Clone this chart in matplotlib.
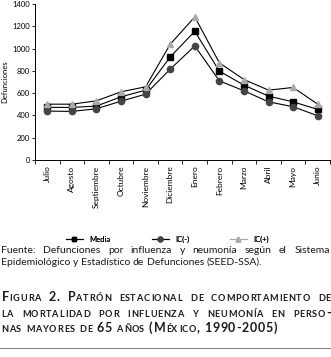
import numpy as np
import matplotlib
matplotlib.use("Agg")
import matplotlib.pyplot as plt
from matplotlib.lines import Line2D
from matplotlib.transforms import IdentityTransform
from matplotlib.font_manager import findfont, FontProperties
from matplotlib.ft2font import FT2Font

plt.rcParams['font.family'] = ['Lato', 'DejaVu Sans']

meses = ["Julio", "Agosto", "Septiembre", "Octubre", "Noviembre", "Diciembre",
         "Enero", "Febrero", "Marzo", "Abril", "Mayo", "Junio"]
media = [472, 472, 484, 567, 627, 925, 1155, 797, 672, 573, 522, 454]
ic_menos = [439, 436, 460, 528, 591, 815, 1024, 710, 621, 522, 478, 397]
ic_mas = [501, 501, 531, 612, 657, 1039, 1284, 872, 722, 627, 651, 501]

W, H = 331, 357
fig = plt.figure(figsize=(W / 100, H / 100), dpi=100)
ax = fig.add_axes([35 / W, 1 - 160 / H, 295 / W, 156 / H])

x = np.arange(len(meses))
ax.plot(x, media, "-", color="black", lw=0.8, marker="s", ms=4.5, mfc="black", mec="black", zorder=3)
ax.plot(x, ic_menos, "-", color="black", lw=0.8, marker="o", ms=4.5, mfc="#444444", mec="#444444", zorder=3)
ax.plot(x, ic_mas, "-", color="black", lw=0.8, marker="^", ms=4.5, mfc="#aaaaaa", mec="#aaaaaa", zorder=3)

ax.set_xlim(-0.5, 11.5)
ax.set_ylim(0, 1400)
ax.set_yticks(range(0, 1401, 200))
ax.set_xticks(x)
ax.set_xticklabels(meses, rotation=90, fontsize=6)
ax.set_xticks(np.arange(-0.5, 11.6, 1), minor=True)
ax.tick_params(axis="x", which="major", length=0, pad=4)
ax.tick_params(axis="x", which="minor", length=3, width=0.6, direction="out")
ax.tick_params(axis="y", labelsize=5.5, length=2.5, width=0.6, pad=1)
for s in ["top", "right"]:
    ax.spines[s].set_visible(False)
for s in ["left", "bottom"]:
    ax.spines[s].set_linewidth(0.7)
ax.set_ylabel("Defunciones", fontsize=5.5, labelpad=3)

# leyenda: una entrada por posicion
entradas = [("Media", "s", "black", "black", 66),
            ("IC(-)", "o", "#444444", "black", 152),
            ("IC(+)", "^", "#aaaaaa", "#aaaaaa", 230)]
for nombre, mk, mcol, lcol, xl in entradas:
    h = Line2D([], [], color=lcol, lw=0.8, marker=mk, ms=3.5, mfc=mcol, mec=mcol)
    lg = fig.legend([h], [nombre], loc="center left", bbox_to_anchor=(xl / W, 1 - 239 / H),
                    frameon=False, fontsize=5.5, handlelength=2.2, handletextpad=0.9,
                    borderpad=0, borderaxespad=0)
    fig.add_artist(lg)

renderer = fig.canvas.get_renderer()


def ancho(t):
    return t.get_window_extent(renderer).width


def poner(xp, ytop, s, size, bold=False, color="#1a1a1a"):
    t = fig.text(xp, H - ytop, s, fontsize=size, fontweight="bold" if bold else "normal",
                 color=color, transform=IdentityTransform(), va="baseline", ha="left")
    return t


def medir(s, size, bold=False):
    t = poner(0, 100, s, size, bold)
    a = ancho(t)
    t.remove()
    return a


def linea_justificada(ybase, palabras, size, x0=1, x1=330, justificar=True):
    textos = []
    anchos = []
    for p in palabras:
        t = poner(0, ybase, p, size)
        textos.append(t)
        anchos.append(ancho(t))
    esp = medir("a a", size) - medir("aa", size)
    if justificar and len(palabras) > 1:
        esp = (x1 - x0 - sum(anchos)) / (len(palabras) - 1)
    xp = x0
    for t, a in zip(textos, anchos):
        t.set_x(xp)
        xp += a + esp


linea_justificada(253, "Fuente: Defunciones por influenza y neumonía según el Sistema".split(), 7.45)
linea_justificada(265, "Epidemiológico y Estadístico de Defunciones (SEED-SSA).".split(), 7.45, justificar=False)

# avance y apoyo izquierdo de cada letra (en pixeles) con la fuente negrita
fuente_bold = FT2Font(findfont(FontProperties(family="Lato", weight="bold")))


def metrica(ch, size):
    fuente_bold.set_size(size, 100)
    g = fuente_bold.load_char(ord(ch))
    return g.linearHoriAdvance / 65536.0, g.horiBearingX / 64.0


def linea_versalitas(ybase, s, big, small, track=0.75, x0=1, x1=330, justificar=True):
    # versalitas a mano: minusculas -> mayusculas mas pequeñas, letra a letra
    palabras = s.split()
    grupos = []
    anchos = []
    for p in palabras:
        g = []
        w = 0
        for ch in p:
            if ch.isalpha() and ch.islower():
                c, sz = ch.upper(), small
            else:
                c, sz = ch, big
            t = poner(0, ybase, c, sz, bold=True)
            adv, lsb = metrica(c, sz)
            g.append((t, adv + track, lsb))
            w += adv + track
        grupos.append(g)
        anchos.append(w - track)
    esp = 4.5
    if justificar and len(palabras) > 1:
        esp = (x1 - x0 - sum(anchos)) / (len(palabras) - 1)
    xp = x0
    for g, w in zip(grupos, anchos):
        xi = xp
        for t, a, lsb in g:
            t.set_x(xi + lsb)
            xi += a
        xp += w + esp


linea_versalitas(301, "Figura 2. Patrón estacional de comportamiento de", 9.0, 6.6)
linea_versalitas(317, "la mortalidad por influenza y neumonía en perso-", 9.0, 6.6)
linea_versalitas(332, "nas mayores de 65 años (México, 1990-2005)", 9.0, 6.6, justificar=False)

fig.add_artist(Line2D([0, 1], [1 - 348 / H, 1 - 348 / H], color="#888888", lw=0.8))

fig.savefig("out.png", dpi=100)
